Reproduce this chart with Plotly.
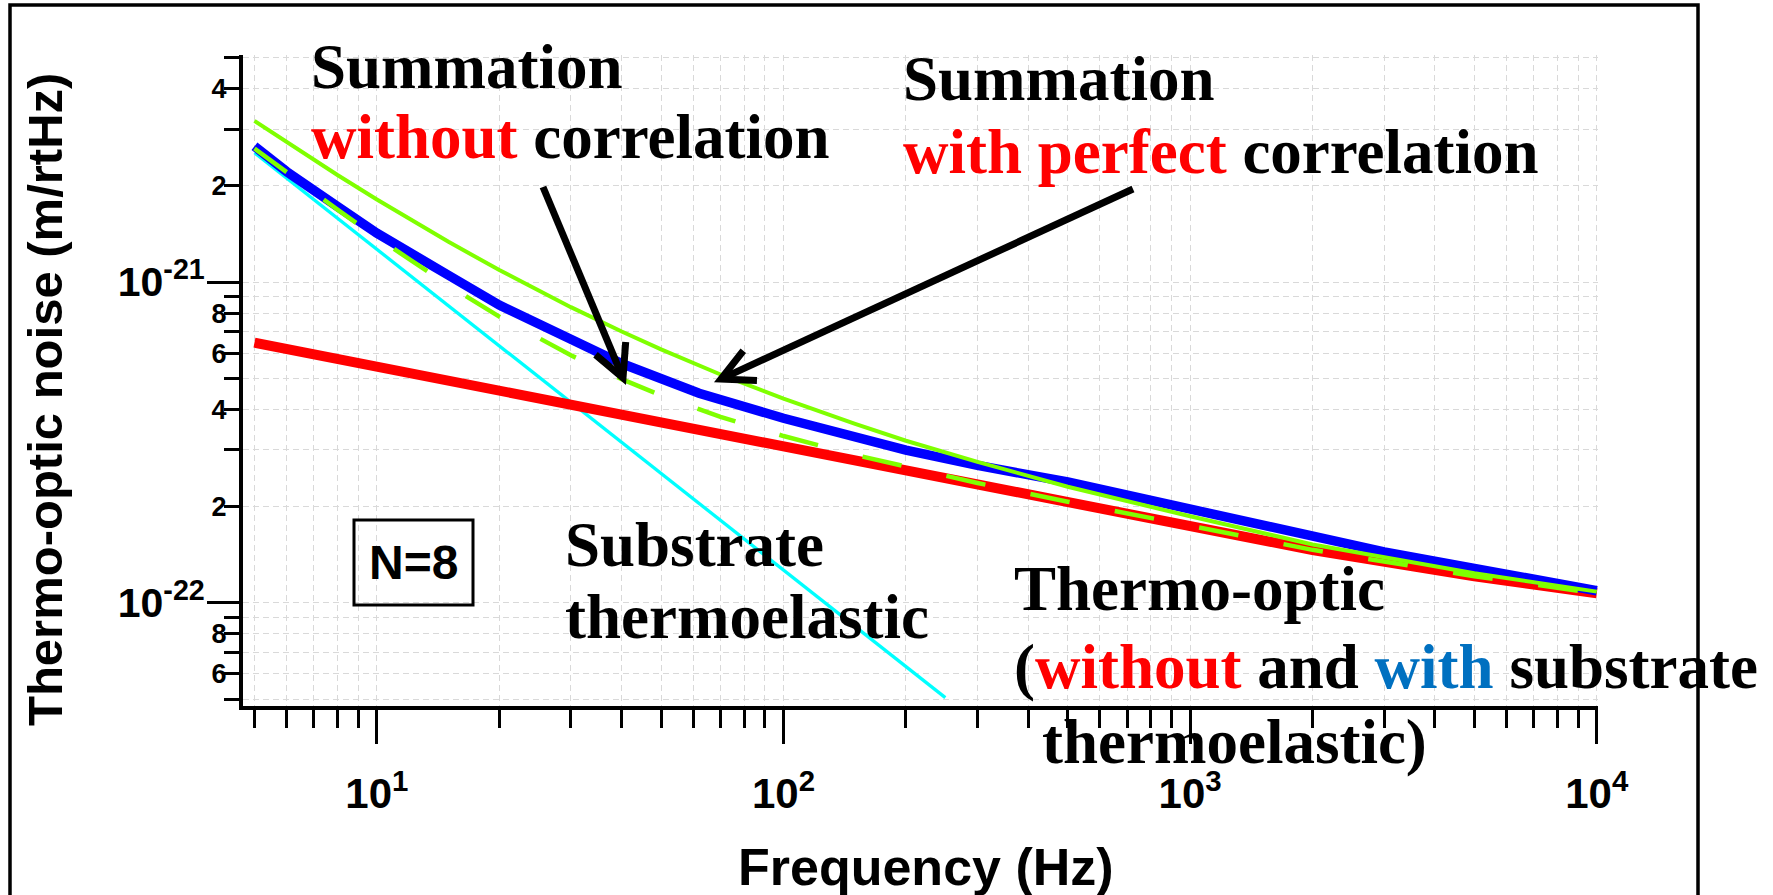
import math
import plotly.graph_objects as go

# ---------------- data ----------------
freq_red = [5, 10, 20, 50, 100, 200, 500, 1000, 2000, 5000, 10000]
noise_red = [6.47e-22, 5.44e-22, 4.57e-22, 3.64e-22, 3.06e-22, 2.57e-22,
             2.05e-22, 1.73e-22, 1.46e-22, 1.21e-22, 1.07e-22]

freq_blue = [5, 6, 8, 10, 15, 20, 30, 40, 62, 100, 200, 300, 500, 1000,
             2000, 3000, 5000, 10000]
noise_blue = [2.65e-21, 2.21e-21, 1.72e-21, 1.42e-21, 1.05e-21, 8.48e-22,
              6.63e-22, 5.57e-22, 4.50e-22, 3.76e-22, 2.99e-22, 2.68e-22,
              2.38e-22, 1.95e-22, 1.61e-22, 1.44e-22, 1.28e-22, 1.09e-22]

freq_sub = [5, 10, 20, 50, 100, 200, 250]
noise_sub = [2.53e-21, 1.265e-21, 6.33e-22, 2.53e-22, 1.265e-22, 6.33e-23, 5.06e-23]

freq_sum = [5, 6, 8, 10, 15, 20, 30, 40, 50, 70, 100, 150, 200, 300, 500,
            1000, 2000, 5000, 10000]
noise_sum_uncorr = [2.61e-21, 2.197e-21, 1.682e-21, 1.377e-21, 9.76e-22, 7.80e-22,
                    5.91e-22, 4.98e-22, 4.43e-22, 3.80e-22, 3.31e-22, 2.89e-22,
                    2.65e-22, 2.363e-22, 2.066e-22, 1.735e-22, 1.462e-22,
                    1.21e-22, 1.07e-22]
noise_sum_corr = [3.18e-21, 2.726e-21, 2.156e-21, 1.809e-21, 1.335e-21, 1.09e-21,
                  8.35e-22, 7.01e-22, 6.17e-22, 5.15e-22, 4.33e-22, 3.61e-22,
                  3.20e-22, 2.75e-22, 2.30e-22, 1.86e-22, 1.52e-22,
                  1.235e-22, 1.083e-22]

x_major = [10, 100, 1000, 10000]
x_major_text = ["10<sup>1</sup>", "10<sup>2</sup>", "10<sup>3</sup>", "10<sup>4</sup>"]
x_minor = [m * d for d in (1, 10, 100, 1000) for m in range(2, 10) if m * d >= 5]

y_major = [1e-22, 1e-21]
y_major_text = ["10<sup>-22</sup>", "10<sup>-21</sup>"]
y_minor = [m * 1e-23 for m in range(5, 10)] + [m * 1e-22 for m in range(2, 10)] + \
          [m * 1e-21 for m in range(2, 6)]
y_minor_text = ["", "6", "", "8", "",
                "2", "", "4", "", "6", "", "8", "",
                "2", "", "4", ""]

# ---------------- layout geometry (pixels) ----------------
FW, FH = 1773, 895
L, T, R, B = 243, 55, 1598, 706
W, H = R - L, B - T
YR = [-22.322, -20.292]


def px(x):
    return (x - L) / W


def py(y):
    return (B - y) / H


GRID = "#d9d9d9"
SANS = "Liberation Sans"
SERIF = "Liberation Serif"

fig = go.Figure()
fig.add_trace(go.Scatter(x=freq_sub, y=noise_sub, mode="lines",
                         line=dict(color="#00ffff", width=3.3), showlegend=False))
fig.add_trace(go.Scatter(x=freq_red, y=noise_red, mode="lines",
                         line=dict(color="#ff0000", width=10), showlegend=False))
fig.add_trace(go.Scatter(x=freq_blue, y=noise_blue, mode="lines",
                         line=dict(color="#0000ff", width=9.5), showlegend=False))
fig.add_trace(go.Scatter(x=freq_sum, y=noise_sum_corr, mode="lines",
                         line=dict(color="#7fff00", width=4), showlegend=False))
fig.add_trace(go.Scatter(x=freq_sum, y=noise_sum_uncorr, mode="lines", yaxis="y2",
                         line=dict(color="#7fff00", width=4.5, dash="40px,46px"),
                         showlegend=False))

fig.update_layout(
    width=FW, height=FH,
    margin=dict(l=L, r=FW - R, t=T, b=FH - B, autoexpand=False),
    paper_bgcolor="white", plot_bgcolor="white",
    showlegend=False,
    xaxis=dict(
        type="log", range=[0.6708, 4.003],
        showline=True, linecolor="black", linewidth=4,
        tickmode="array", tickvals=x_major, ticktext=x_major_text,
        ticks="outside", ticklen=34, tickwidth=3, tickcolor="black",
        ticklabelstandoff=14,
        tickfont=dict(family=SANS, size=42, color="black", weight="bold"),
        showgrid=True, gridcolor=GRID, gridwidth=1, griddash="6px,4px",
        zeroline=False,
        minor=dict(tickmode="array", tickvals=x_minor, ticks="outside",
                   ticklen=18, tickwidth=3, tickcolor="black",
                   showgrid=True, gridcolor=GRID, gridwidth=1, griddash="6px,4px"),
    ),
    yaxis=dict(
        type="log", range=YR,
        showline=True, linecolor="black", linewidth=4,
        tickmode="array", tickvals=y_major, ticktext=y_major_text,
        ticks="outside", ticklen=32, tickwidth=3, tickcolor="black",
        ticklabelstandoff=-6,
        tickfont=dict(family=SANS, size=41, color="black", weight="bold"),
        showgrid=True, gridcolor=GRID, gridwidth=1, griddash="6px,4px",
        zeroline=False,
        minor=dict(tickmode="array", tickvals=y_minor, ticks="",
                   showgrid=True, gridcolor=GRID, gridwidth=1, griddash="6px,4px"),
    ),
    yaxis2=dict(
        type="log", range=YR, overlaying="y", anchor="x", side="left",
        showline=False, showgrid=False, zeroline=False,
        tickmode="array", tickvals=y_minor, ticktext=y_minor_text,
        ticks="outside", ticklen=18, tickwidth=3, tickcolor="black",
        ticklabelstandoff=-8,
        tickfont=dict(family=SANS, size=27, color="black", weight="bold"),
    ),
)

# outer frame and N=8 box
fig.add_shape(type="rect", xref="paper", yref="paper",
              x0=px(10), x1=px(1698), y0=py(915), y1=py(5),
              line=dict(color="black", width=3.5), fillcolor="rgba(0,0,0,0)", layer="above")
fig.add_shape(type="rect", xref="paper", yref="paper",
              x0=px(354), x1=px(473), y0=py(605), y1=py(520),
              line=dict(color="black", width=3), fillcolor="rgba(0,0,0,0)", layer="above")

# axis titles
fig.add_annotation(text="Frequency (Hz)", xref="paper", yref="paper",
                   x=px(926), y=py(867), xanchor="center", yanchor="middle",
                   showarrow=False, font=dict(family=SANS, size=52, color="black", weight="bold"))
fig.add_annotation(text="Thermo-optic noise (m/rtHz)", xref="paper", yref="paper",
                   x=px(45), y=py(400), xanchor="center", yanchor="middle", textangle=-90,
                   showarrow=False, font=dict(family=SANS, size=49, color="black", weight="bold"))
fig.add_annotation(text="N=8", xref="paper", yref="paper",
                   x=px(413.5), y=py(562.5), xanchor="center", yanchor="middle",
                   showarrow=False, font=dict(family=SANS, size=48, color="black", weight="bold"))

RED = "#ff0000"
BLUE = "#0070c0"
labels = [
    ("Summation", 309, 67),
    (f"<span style='color:{RED}'>without</span> correlation", 309, 137),
    ("Summation", 901, 79),
    (f"<span style='color:{RED}'>with perfect</span> correlation", 901, 152),
    ("Substrate", 563, 545),
    ("thermoelastic", 563, 617),
    ("Thermo-optic", 1012, 589),
    (f"(<span style='color:{RED}'>without</span> and <span style='color:{BLUE}'>with</span> substrate", 1012, 667),
    ("thermoelastic)", 1040, 742),
]
for txt, lx, cy in labels:
    fig.add_annotation(text=txt, xref="paper", yref="paper", x=px(lx), y=py(cy),
                       xanchor="left", yanchor="middle", showarrow=False,
                       font=dict(family=SERIF, size=63, color="black", weight="bold"))

# arrows drawn as shaft + open chevron head (pixel geometry -> paper coords)
arrows = [((623, 378), (543, 187)), ((721, 379), (1133, 189))]
ARM, ANG, LW = 36, math.radians(27), 7
for (hx, hy), (tx, ty) in arrows:
    dx, dy = tx - hx, ty - hy
    n = math.hypot(dx, dy)
    ux, uy = dx / n, dy / n
    base = math.atan2(uy, ux)
    a1 = (hx + ARM * math.cos(base + ANG), hy + ARM * math.sin(base + ANG))
    a2 = (hx + ARM * math.cos(base - ANG), hy + ARM * math.sin(base - ANG))
    sx, sy = hx + 4 * ux, hy + 4 * uy
    fig.add_shape(type="line", xref="paper", yref="paper",
                  x0=px(tx), y0=py(ty), x1=px(sx), y1=py(sy),
                  line=dict(color="black", width=LW), layer="above")
    path = (f"M {px(a1[0])},{py(a1[1])} L {px(hx)},{py(hy)} "
            f"L {px(a2[0])},{py(a2[1])}")
    fig.add_shape(type="path", xref="paper", yref="paper", path=path,
                  line=dict(color="black", width=LW), layer="above")

fig.write_html("out.html")
